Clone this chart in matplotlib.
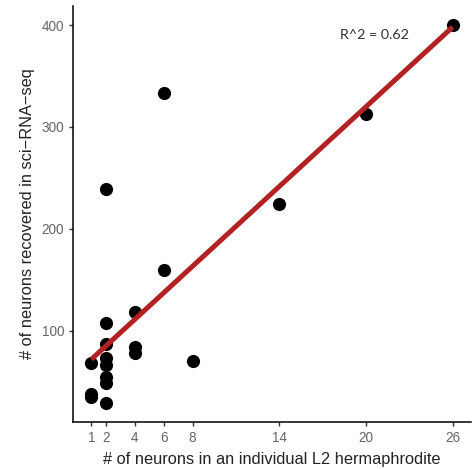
import numpy as np
import matplotlib
matplotlib.use("Agg")
import matplotlib.pyplot as plt

plt.rcParams['font.family'] = ['Liberation Sans', 'DejaVu Sans']

# neurons per class in an L2 animal vs. neurons recovered by sci-RNA-seq
n_in_animal = [1, 1, 1, 2, 2, 2, 2, 2, 2, 2, 2, 4, 4, 4, 6, 6, 8, 14, 20, 26]
n_recovered = [68, 38, 35, 29, 55, 49, 73, 66, 87, 108, 239, 118, 84, 78, 333, 160, 70, 224, 313, 400]
r_squared = 0.62
x_ticks = [1, 2, 4, 6, 8, 14, 20, 26]
y_ticks = [100, 200, 300, 400]

x = np.array(n_in_animal, dtype=float)
y = np.array(n_recovered, dtype=float)
slope, intercept = np.polyfit(x, y, 1)

fig, ax = plt.subplots(figsize=(4.73, 4.69), dpi=100)
fig.subplots_adjust(left=0.155, right=0.995, top=0.987, bottom=0.1)

ax.scatter(x, y, s=90, color='black', zorder=2, linewidths=0)
xs = np.array([x.min(), x.max()])
ax.plot(xs, slope * xs + intercept, color='#B22222', lw=3.6, zorder=3,
        solid_capstyle='butt')
ax.text(20.6, 390, "R^2 = %.2f" % r_squared, ha='center', va='center',
        fontsize=10.3, color='#333333', family=['Lato', 'DejaVu Sans'])

span_x = x.max() - x.min()
span_y = y.max() - y.min()
ax.set_xlim(x.min() - 0.05 * span_x, x.max() + 0.05 * span_x)
ax.set_ylim(y.min() - 0.05 * span_y, y.max() + 0.05 * span_y)
ax.set_xticks(x_ticks)
ax.set_yticks(y_ticks)
ax.tick_params(colors='#333333', labelcolor='#666666', labelsize=9.8,
               length=3, width=1)

for side in ['top', 'right']:
    ax.spines[side].set_visible(False)
for side in ['left', 'bottom']:
    ax.spines[side].set_linewidth(1.1)

ax.set_xlabel("# of neurons in an individual L2 hermaphrodite", fontsize=11.8,
              labelpad=5, color='#222222')
ax.set_ylabel("# of neurons recovered in sci\u2212RNA\u2212seq", fontsize=11.8,
              labelpad=5, color='#222222')

fig.savefig("out.png", dpi=100)
